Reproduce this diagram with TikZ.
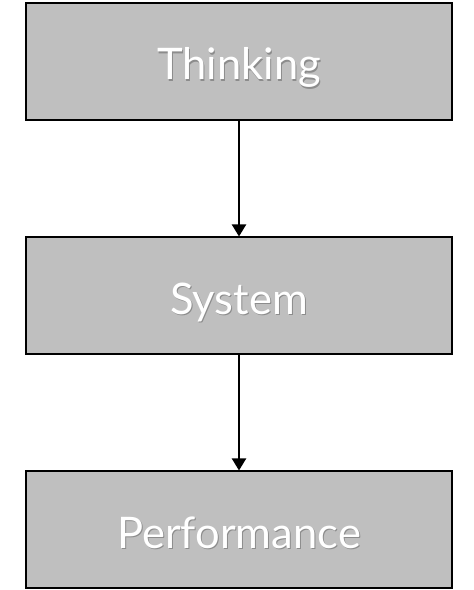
\documentclass[tikz,border=0pt]{standalone}
\usepackage{fontspec}
\setmainfont{Lato}
\usetikzlibrary{arrows.meta}
\definecolor{boxgray}{HTML}{BFBFBF}
\tikzset{
  stagebox/.style={draw=black, line width=2pt, fill=boxgray, minimum width=426pt, minimum height=117pt, inner sep=0pt},
  labeltext/.style={text=white, font=\fontsize{43.5}{48}\selectfont, inner sep=0pt, anchor=base},
  shadowtext/.style={text=black!45, font=\fontsize{43.5}{48}\selectfont, inner sep=0pt, anchor=base},
  flow/.style={line width=2pt, -{Triangle[length=12pt,width=14pt]}}
}
\newcommand{\stage}[3]{%
  \node[stagebox] (#1) at (239,#2) {};
  \node[shadowtext] at ([xshift=1pt,yshift=-20pt]#1.center) {#3};
  \node[labeltext] (#1t) at ([yshift=-18.5pt]#1.center) {#3};
}
\begin{document}
\begin{tikzpicture}[x=1pt,y=1pt]
\useasboundingbox (0,0) rectangle (474,590);
\stage{think}{528.5}{Thinking}
\stage{sys}{294}{System}
\stage{perf}{60}{Performance}
\draw[flow] (think.south) -- (sys.north);
\draw[flow] (sys.south) -- (perf.north);
\end{tikzpicture}
\end{document}
